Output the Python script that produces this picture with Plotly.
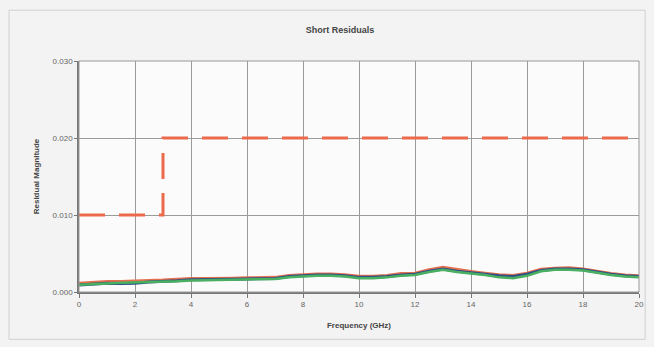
import plotly.graph_objects as go

freq = [0, 0.5, 1, 1.5, 2, 2.5, 3, 3.5, 4, 4.5, 5, 5.5, 6, 6.5, 7, 7.5, 8, 8.5, 9, 9.5, 10,
        10.5, 11, 11.5, 12, 12.5, 13, 13.5, 14, 14.5, 15, 15.5, 16, 16.5, 17, 17.5, 18, 18.5, 19, 19.5, 20]

red = [0.00115, 0.00125, 0.00135, 0.00135, 0.00145, 0.0015, 0.00155, 0.00165, 0.00175, 0.00175, 0.00175,
       0.0018, 0.00185, 0.0019, 0.0019, 0.00215, 0.00225, 0.00235, 0.00235, 0.00225, 0.00205,
       0.00205, 0.00215, 0.0024, 0.00245, 0.0029, 0.0032, 0.0029, 0.00265, 0.00245, 0.00225,
       0.00215, 0.00245, 0.00295, 0.0031, 0.00315, 0.003, 0.0027, 0.0024, 0.0022, 0.0021]
blue = [0.0009, 0.00105, 0.00115, 0.0011, 0.00115, 0.0013, 0.00135, 0.00145, 0.0016, 0.0016, 0.0016,
        0.00165, 0.0017, 0.00172, 0.00175, 0.002, 0.0021, 0.0022, 0.0022, 0.0021, 0.0019,
        0.0019, 0.002, 0.0022, 0.0023, 0.0027, 0.003, 0.0027, 0.0025, 0.0023, 0.0021,
        0.002, 0.0023, 0.0028, 0.003, 0.003, 0.0029, 0.0026, 0.0023, 0.0021, 0.002]
green = [0.00095, 0.001, 0.0011, 0.0012, 0.00125, 0.0013, 0.0013, 0.0014, 0.0015, 0.00155, 0.00155,
         0.0016, 0.00165, 0.00165, 0.0017, 0.0019, 0.002, 0.0021, 0.0021, 0.002, 0.0018,
         0.0018, 0.0019, 0.0021, 0.0022, 0.0026, 0.0029, 0.0026, 0.0024, 0.0022, 0.0019,
         0.0018, 0.0021, 0.0027, 0.0029, 0.0029, 0.0028, 0.0025, 0.0022, 0.002, 0.0019]

limit_x = [0, 3, 3, 20]
limit_y = [0.010, 0.010, 0.020, 0.020]

x_ticks = [0, 2, 4, 6, 8, 10, 12, 14, 16, 18, 20]
y_ticks = [0.000, 0.010, 0.020, 0.030]
y_labels = ["0.000", "0.010", "0.020", "0.030"]

fig = go.Figure()
fig.add_trace(go.Scatter(x=freq, y=red, mode="lines", line=dict(color="#e5704f", width=3), showlegend=False))
fig.add_trace(go.Scatter(x=freq, y=blue, mode="lines", line=dict(color="#2f4f86", width=3), showlegend=False))
fig.add_trace(go.Scatter(x=freq, y=green, mode="lines", line=dict(color="#48b060", width=2.5), showlegend=False))
fig.add_trace(go.Scatter(x=limit_x, y=limit_y, mode="lines",
                         line=dict(color="#ec6a4c", width=3, dash="26px,14px"), showlegend=False))

fnt = "Liberation Sans, Arial, sans-serif"
fig.update_layout(
    width=654, height=347,
    margin=dict(l=79, r=10, t=61, b=55),
    paper_bgcolor="#f3f3f3",
    plot_bgcolor="#fbfbfb",
    font=dict(family=fnt, size=8, color="#666"),
    title=dict(text="<b>Short Residuals</b>", x=0.52, xanchor="center", y=0.915, yanchor="middle",
               font=dict(family=fnt, size=9, color="#444")),
    xaxis=dict(range=[0, 20], tickvals=x_ticks, showgrid=True, gridcolor="#9a9a9a", gridwidth=1,
               showline=True, linecolor="#777", linewidth=1.5, ticks="outside", ticklen=4,
               tickcolor="#777", zeroline=False,
               title=dict(text="<b>Frequency (GHz)</b>", font=dict(family=fnt, size=8, color="#444"), standoff=14)),
    yaxis=dict(range=[0, 0.030], tickvals=y_ticks, ticktext=y_labels, showgrid=True, gridcolor="#9a9a9a",
               gridwidth=1, showline=True, linecolor="#777", linewidth=1.5, ticks="outside", ticklen=3,
               tickcolor="#777", zeroline=False,
               title=dict(text="<b>Residual Magnitude</b>", font=dict(family=fnt, size=8, color="#444"), standoff=12)),
    shapes=[
        dict(type="rect", xref="paper", yref="paper", x0=-0.125, x1=1.011, y0=-0.205, y1=1.22,
             line=dict(color="#d0d0d0", width=1), fillcolor="rgba(0,0,0,0)", layer="below"),
        dict(type="rect", xref="paper", yref="paper", x0=0, x1=1, y0=0, y1=1,
             line=dict(color="#999", width=1), fillcolor="rgba(0,0,0,0)"),
    ],
)

fig.write_html("out.html")
